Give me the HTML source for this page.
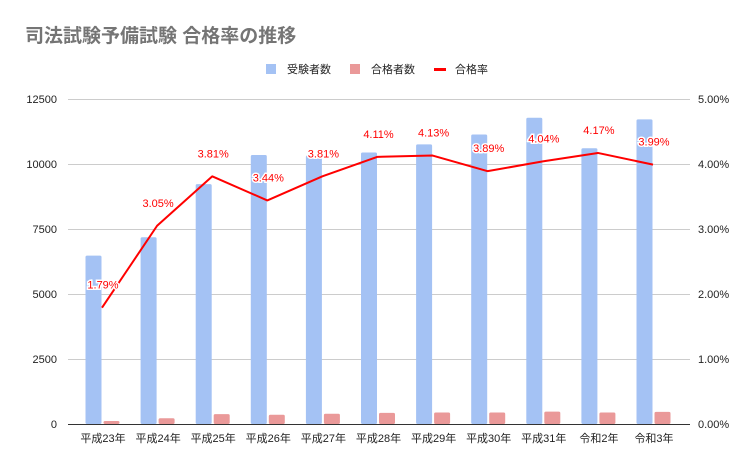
<!DOCTYPE html><html><head><meta charset="utf-8"><style>body{margin:0;background:#fff}svg{display:block}text{font-family:"Liberation Sans","Noto Sans CJK JP",sans-serif}</style></head><body>
<svg width="756" height="468" viewBox="0 0 756 468">
<rect width="756" height="468" fill="#fff"/>
<text x="25" y="42" font-size="19" fill="#757575" font-weight="bold">司法試験予備試験 合格率の推移</text>
<rect x="266" y="64" width="10" height="10" fill="#a4c2f4"/><text x="287" y="73" font-size="11" fill="#222">受験者数</text>
<rect x="350" y="64" width="10" height="10" fill="#ea9999"/><text x="371" y="73" font-size="11" fill="#222">合格者数</text>
<rect x="434" y="68" width="12" height="3" fill="#ff0000"/><text x="455" y="73" font-size="11" fill="#222">合格率</text>
<g stroke="#ccc" stroke-width="1">
<line x1="68" y1="99.5" x2="690" y2="99.5"/><line x1="68" y1="164.5" x2="690" y2="164.5"/><line x1="68" y1="229.5" x2="690" y2="229.5"/><line x1="68" y1="294.5" x2="690" y2="294.5"/><line x1="68" y1="359.5" x2="690" y2="359.5"/></g>
<g font-size="11" fill="#222" text-anchor="end">
<text x="57" y="103">12500</text><text x="57" y="168">10000</text><text x="57" y="233">7500</text><text x="57" y="298">5000</text><text x="57" y="363">2500</text><text x="57" y="428">0</text></g>
<g font-size="11" fill="#222" text-anchor="start">
<text x="698" y="103">5.00%</text><text x="698" y="168">4.00%</text><text x="698" y="233">3.00%</text><text x="698" y="298">2.00%</text><text x="698" y="363">1.00%</text><text x="698" y="428">0.00%</text></g>
<g id="bars"></g>
<line x1="68" y1="424.5" x2="690" y2="424.5" stroke="#333" stroke-width="1"/>
<g id="xl" font-size="11" fill="#222" text-anchor="middle"></g>
<polyline id="ln" fill="none" stroke="#ff0000" stroke-width="2" stroke-linejoin="round"/>
<g id="lb" font-size="11" fill="#ff0000" text-anchor="middle" stroke="#fff" stroke-width="3" paint-order="stroke"></g>
</svg>
<script>
var blue=[6477,7183,9224,10347,10334,10442,10755,11136,11780,10608,11717],
pink=[116,219,379,356,394,429,444,442,476,442,467],
rate=[1.79,3.05,3.81,3.44,3.81,4.11,4.13,3.89,4.04,4.17,3.99],
lab=["平成23年","平成24年","平成25年","平成26年","平成27年","平成28年","平成29年","平成30年","平成31年","令和2年","令和3年"];
var ns="http://www.w3.org/2000/svg",b=document.getElementById("bars"),xl=document.getElementById("xl"),lb=document.getElementById("lb"),pts=[];
function Y(v){return 424-v/12500*325}
for(var i=0;i<11;i++){var c=102+55.1*i;
function r(x,v,col){var e=document.createElementNS(ns,"rect");e.setAttribute("x",x);e.setAttribute("y",Y(v));e.setAttribute("width",16);e.setAttribute("height",424-Y(v));e.setAttribute("rx",1.5);e.setAttribute("fill",col);b.appendChild(e)}
r(c-16.5,blue[i],"#a4c2f4");r(c+1.5,pink[i],"#ea9999");
var t=document.createElementNS(ns,"text");t.setAttribute("x",c+1);t.setAttribute("y",442);t.textContent=lab[i];xl.appendChild(t);
var y=424-rate[i]/5*325;pts.push(c+","+y);
var u=document.createElementNS(ns,"text");u.setAttribute("x",c+1);u.setAttribute("y",y-19);u.textContent=rate[i].toFixed(2)+"%";lb.appendChild(u);}
document.getElementById("ln").setAttribute("points",pts.join(" "));
</script>
</body></html>
